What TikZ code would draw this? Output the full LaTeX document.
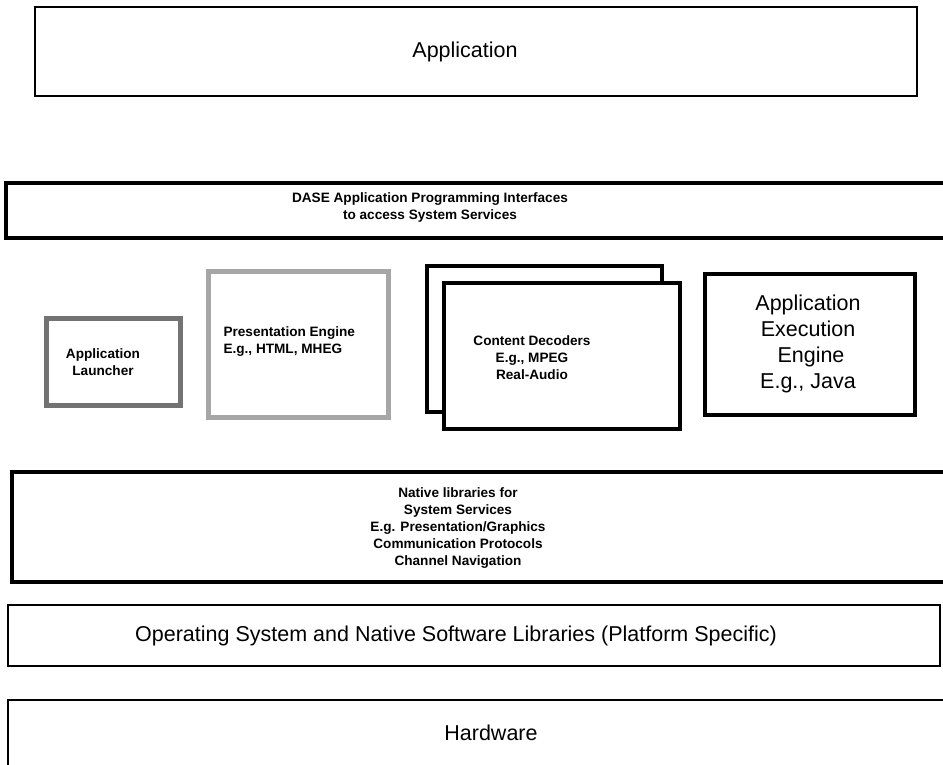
\documentclass[tikz,border=0pt]{standalone}
\usepackage{fontspec}
\setmainfont{Liberation Sans}
\begin{document}
\begin{tikzpicture}[x=1pt,y=-1pt,
  thinbox/.style={draw=black,line width=1.3pt,fill=none},
  thickbox/.style={draw=black,line width=4pt},
  midbox/.style={draw=black,line width=3.2pt,fill=white},
  greybox/.style={line width=5pt},
  big/.style={font=\fontsize{21.5}{26}\selectfont,align=center},
  small/.style={font=\bfseries\fontsize{13.6}{17}\selectfont,align=center},
  aee/.style={font=\fontsize{21.5}{26}\selectfont,align=center}]
\useasboundingbox (0,0) rectangle (943,764);
\clip (0,0) rectangle (943,764);

% top layer
\draw[thinbox] (35,7) rectangle (917,96);
\node[big] (app) at (465,52) {Application};

% API layer
\draw[thickbox] (6,183) rectangle (960,238);
\node[small] (api) at (430,207) {DASE Application Programming Interfaces\\to access System Services};

% middleware components
\draw[greybox,draw=black!55] (46,318) rectangle (180,405);
\node[small] (launcher) at (103,362) {Application\\Launcher};

\draw[greybox,draw=black!35] (208,271) rectangle (388,417);
\node[small,align=left,anchor=west] (pres) at (220,342) {Presentation Engine\\E.g., HTML, MHEG};

\draw[midbox] (427,266) rectangle (662,412);
\draw[midbox] (444,283) rectangle (680,429);
\node[small] (dec) at (532,358) {Content Decoders\\E.g., MPEG\\Real-Audio};

\draw[midbox] (705,274) rectangle (915,415);
\node[aee] (exec) at (808,344) {Application\\Execution\\\ Engine\\E.g., Java};

% native libraries
\draw[thickbox] (12,472) rectangle (960,582);
\node[small] (native) at (458,528) {Native libraries for\\System Services\\E.g. Presentation/Graphics\\Communication Protocols\\Channel Navigation};

% platform
\draw[thinbox] (8,605) rectangle (940,666);
\node[big] (os) at (456,636) {Operating System and Native Software Libraries (Platform Specific)};

\draw[thinbox] (8,700) rectangle (960,790);
\node[big] (hw) at (491,733) {Hardware};
\end{tikzpicture}
\end{document}
